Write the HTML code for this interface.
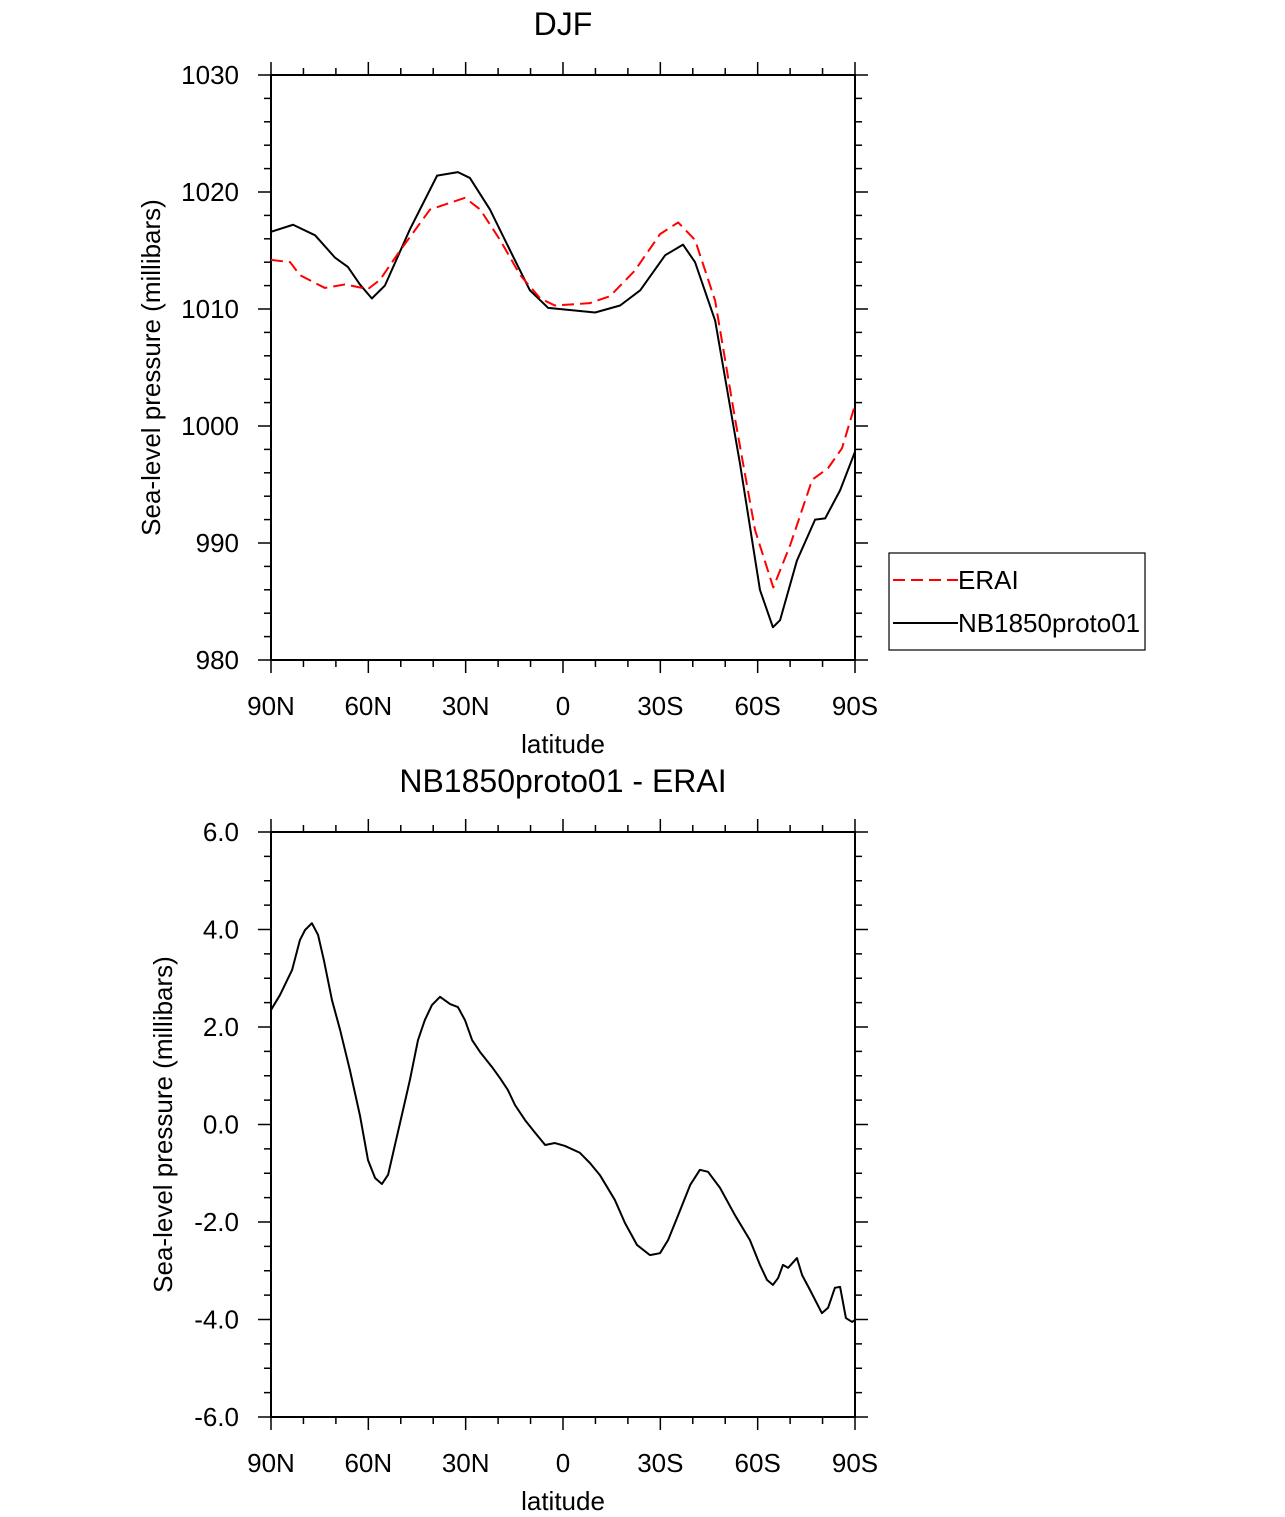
<!DOCTYPE html>
<html><head><meta charset="utf-8"><style>
body{margin:0;background:#fff}
svg{display:block;font-family:"Liberation Sans",Arial,sans-serif}
</style></head><body>
<svg id="chart" width="1285" height="1517" xmlns="http://www.w3.org/2000/svg"></svg>
<script>
const xTickLabels=["90N","60N","30N","0","30S","60S","90S"];
const xTickVals=[90,60,30,0,-30,-60,-90];
const topYTicks=[980,990,1000,1010,1020,1030];
const topYLabels=["980","990","1000","1010","1020","1030"];
const botYTicks=[-6,-4,-2,0,2,4,6];
const botYLabels=["-6.0","-4.0","-2.0","0.0","2.0","4.0","6.0"];
const eraiLat=[90,84.1,81.1,73.4,67.2,60.1,56.4,50.2,41.0,30.2,25.5,19.4,13.2,7.0,2.5,-8.3,-14.5,-22.2,-29.9,-35.5,-40.7,-46.9,-53.1,-59.2,-64.8,-70.0,-76.8,-81.7,-86.0,-90];
const eraiVal=[1014.2,1014.0,1012.9,1011.8,1012.1,1011.7,1012.5,1015.0,1018.5,1019.5,1018.5,1015.9,1012.9,1010.9,1010.3,1010.5,1011.1,1013.3,1016.4,1017.4,1015.9,1010.7,1000.5,991.1,986.2,989.8,995.4,996.4,998.1,1001.8];
const modelLat=[90,83.2,76.4,70.3,66.3,62.6,58.9,54.9,47.2,38.8,32.4,28.7,22.5,16.3,10.2,4.6,-9.9,-17.6,-23.8,-31.5,-37.0,-40.7,-46.9,-54.6,-60.7,-64.7,-66.9,-72.1,-77.7,-80.8,-85.4,-90];
const modelVal=[1016.6,1017.2,1016.3,1014.4,1013.6,1012.1,1010.9,1012.0,1016.8,1021.4,1021.7,1021.2,1018.5,1015.0,1011.6,1010.1,1009.7,1010.3,1011.6,1014.6,1015.5,1014.0,1009.0,996.7,986.0,982.8,983.4,988.5,992.0,992.1,994.5,997.8];
const diffLat=[90,87.2,83.5,81.1,79.5,77.4,75.5,73.7,71.2,68.7,65.7,62.6,60.1,57.9,55.8,53.9,51.8,49.3,47.2,44.7,42.6,40.4,37.9,34.8,32.4,30.2,28.0,25.6,21.9,19.4,17.0,14.8,11.7,8.6,5.5,2.5,-0.6,-5.2,-8.3,-11.4,-16.0,-19.1,-22.8,-26.8,-29.9,-32.4,-35.5,-39.2,-42.2,-44.7,-48.4,-53.0,-57.6,-60.7,-62.9,-64.7,-66.3,-67.8,-69.4,-72.1,-73.7,-76.1,-79.8,-81.7,-83.8,-85.4,-87.2,-89.1,-90];
const diffVal=[2.35,2.66,3.17,3.78,3.99,4.13,3.89,3.37,2.55,1.94,1.12,0.19,-0.73,-1.10,-1.22,-1.03,-0.42,0.30,0.91,1.73,2.14,2.45,2.62,2.47,2.41,2.14,1.73,1.49,1.18,0.95,0.71,0.40,0.09,-0.17,-0.42,-0.38,-0.44,-0.58,-0.79,-1.04,-1.55,-2.02,-2.47,-2.68,-2.64,-2.37,-1.86,-1.24,-0.93,-0.97,-1.30,-1.86,-2.37,-2.88,-3.19,-3.29,-3.15,-2.88,-2.94,-2.74,-3.09,-3.39,-3.87,-3.76,-3.35,-3.33,-3.97,-4.05,-4.01];

const svg=document.getElementById('chart');
const NS="http://www.w3.org/2000/svg";
function mk(tag,attrs,parent){const e=document.createElementNS(NS,tag);for(const k in attrs)e.setAttribute(k,attrs[k]);(parent||svg).appendChild(e);return e;}
const L=271,R=855;
const xs=lat=>L+(90-lat)/180*(R-L);

function panel(name,top,bot,ymin,ymax,yt,yl,minorStep,title,ytitleX){
  const g=mk('g',{});
  
  
  const ys=v=>bot-(v-ymin)/(ymax-ymin)*(bot-top);
  mk('rect',{x:L,y:top,width:R-L,height:bot-top,fill:'none',stroke:'#000','stroke-width':2},g);
  for(let lat=90;lat>=-90;lat-=10){
    const x=xs(lat),major=lat%30===0,len=major?13:7;
    mk('line',{x1:x,y1:bot,x2:x,y2:bot+len,stroke:'#000','stroke-width':1.5},g);
    mk('line',{x1:x,y1:top,x2:x,y2:top-len,stroke:'#000','stroke-width':1.5},g);
  }
  xTickVals.forEach((v,i)=>{const t=mk('text',{x:xs(v),y:bot+55,'font-size':26,'text-anchor':'middle'},g);t.textContent=xTickLabels[i];
    });
  for(let v=ymin;v<=ymax+1e-9;v+=minorStep){
    const y=ys(v),major=yt.some(t=>Math.abs(t-v)<1e-6),len=major?13:7;
    mk('line',{x1:L,y1:y,x2:L-len,y2:y,stroke:'#000','stroke-width':1.5},g);
    mk('line',{x1:R,y1:y,x2:R+len,y2:y,stroke:'#000','stroke-width':1.5},g);
  }
  yt.forEach((v,i)=>{const t=mk('text',{x:239,y:ys(v)+9,'font-size':26,'text-anchor':'end'},g);t.textContent=yl[i];
    });
  const xt=mk('text',{x:563,y:bot+93,'font-size':26,'text-anchor':'middle'},g);xt.textContent='latitude';
  
  const cy=(top+bot)/2;
  const yT=mk('text',{x:ytitleX,y:cy,'font-size':26,'text-anchor':'middle',transform:`rotate(-90 ${ytitleX} ${cy})`},g);
  yT.textContent='Sea-level pressure (millibars)';
  
  const tt=mk('text',{x:563,y:top-40,'font-size':32,'text-anchor':'middle'},g);tt.textContent=title;
  
  return {g,ys};
}
function line(g,ys,lats,vals,color,dash,name){
  const p=mk('polyline',{points:lats.map((l,i)=>xs(l)+','+ys(vals[i])).join(' '),fill:'none',stroke:color,'stroke-width':2,'stroke-linejoin':'round'},g);
  if(dash)p.setAttribute('stroke-dasharray',dash);
  
  
}
const p1=panel('djf-panel',75,660,980,1030,topYTicks,topYLabels,2,'DJF',160);
line(p1.g,p1.ys,modelLat,modelVal,'#000',null,'nb1850proto01-line');
line(p1.g,p1.ys,eraiLat,eraiVal,'#f00','12 6','erai-line');
const p2=panel('difference-panel',832,1417,-6,6,botYTicks,botYLabels,0.5,'NB1850proto01 - ERAI',172);
line(p2.g,p2.ys,diffLat,diffVal,'#000',null,'difference-line');

const lg=mk('g',{});


mk('rect',{x:889,y:553,width:256,height:97,fill:'#fff',stroke:'#000','stroke-width':1.2},lg);
mk('line',{x1:893,y1:580,x2:958,y2:580,stroke:'#f00','stroke-width':2,'stroke-dasharray':'12 6'},lg);
mk('line',{x1:893,y1:623,x2:958,y2:623,stroke:'#000','stroke-width':2},lg);
const e1=mk('text',{x:958,y:589,'font-size':26},lg);e1.textContent='ERAI';

const e2=mk('text',{x:958,y:632,'font-size':26},lg);e2.textContent='NB1850proto01';

</script>
</body></html>
